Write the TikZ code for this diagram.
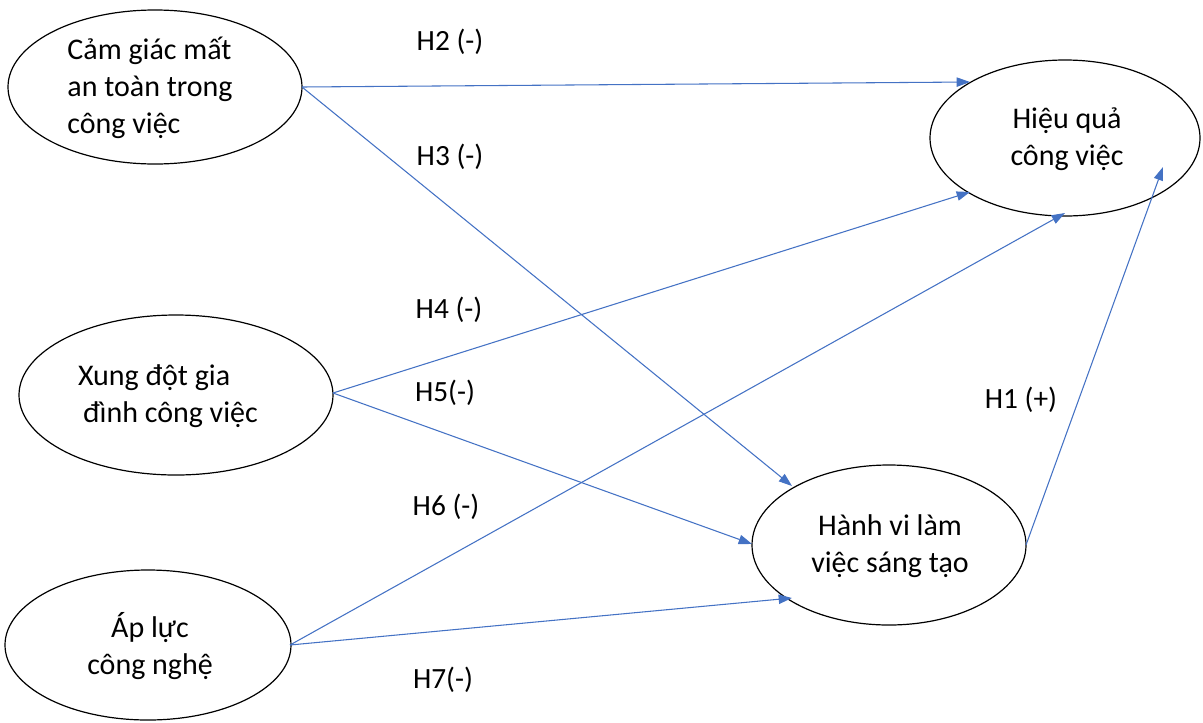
\documentclass[tikz,border=0pt]{standalone}
\usepackage{fontspec}
\setmainfont{Carlito}
\usetikzlibrary{arrows.meta,shapes.geometric}
\definecolor{arr}{RGB}{68,114,196}
\begin{document}
\begin{tikzpicture}[x=0.75pt,y=-0.75pt,
  txt/.style={font=\fontsize{22.5}{27.8}\selectfont,align=center},
  conn/.style={draw=arr,line width=0.8pt,-{Triangle[length=10pt,width=7pt]}},
  lab/.style={font=\fontsize{22}{26}\selectfont}]
\useasboundingbox (0,0) rectangle (1203,722);
\draw[line width=0.9pt] (155,87) ellipse [x radius=147,y radius=77];
\draw[line width=0.9pt] (1065,138) ellipse [x radius=135,y radius=78];
\draw[line width=0.9pt] (176,395) ellipse [x radius=157,y radius=80];
\draw[line width=0.9pt] (889,545) ellipse [x radius=137,y radius=80];
\draw[line width=0.9pt] (148,645) ellipse [x radius=143,y radius=75];
\node[txt,align=left] (a) at (150,88) {Cảm giác mất\\an toàn trong\\công việc};
\node[txt] (b) at (1067,139) {Hiệu quả\\công việc};
\node[txt,align=left] (c) at (168,396) {Xung đột gia\\\,đình công việc};
\node[txt] (d) at (890,546) {Hành vi làm\\việc sáng tạo};
\node[txt] (e) at (150,646) {Áp lực\\công nghệ};
\coordinate (aR) at (302,87);
\coordinate (cR) at (333,393);
\coordinate (eR) at (290,645);
\coordinate (dR) at (1026,545);
\coordinate (bA) at (970,82);
\coordinate (bB) at (970,192);
\coordinate (bC) at (1065,213);
\coordinate (bD) at (1163,167);
\coordinate (dA) at (792,486);
\coordinate (dB) at (752,544);
\coordinate (dC) at (792,598);
\draw[conn] (aR) -- (bA);
\draw[conn] (aR) -- (dA);
\draw[conn] (cR) -- (bB);
\draw[conn] (cR) -- (dB);
\draw[conn] (eR) -- (bC);
\draw[conn] (eR) -- (dC);
\draw[conn] (dR) -- (bD);
\node[lab] (h2) at (450,42) {H2 (-)};
\node[lab] (h3) at (450,157) {H3 (-)};
\node[lab] (h4) at (449,310) {H4 (-)};
\node[lab] (h5) at (445,393) {H5(-)};
\node[lab] (h6) at (446,507) {H6 (-)};
\node[lab] (h7) at (443,680) {H7(-)};
\node[lab] (h1) at (1021,400) {H1 (+)};
\end{tikzpicture}
\end{document}
